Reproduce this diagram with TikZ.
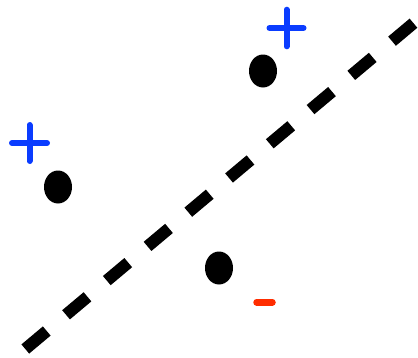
\documentclass[tikz,border=0pt]{standalone}
\usetikzlibrary{shapes.geometric}
\definecolor{plusblue}{RGB}{10,60,255}
\definecolor{minusred}{RGB}{255,45,0}
\begin{document}
\begin{tikzpicture}[x=1pt,y=-1pt,
  dot/.style={ellipse,fill=black,draw=none,inner sep=0pt,minimum width=28pt,minimum height=33pt},
  plussign/.style={draw=plusblue,line width=6pt,line cap=round},
  minussign/.style={draw=minusred,line width=6.5pt,line cap=round},
  sepline/.style={draw=black,line width=12pt,dash pattern=on 28pt off 25.2pt}]
\useasboundingbox (0,0) rectangle (418,357);
% separating line
\coordinate (la) at (25.3,349);
\coordinate (lb) at (413.7,23);
\path[sepline] (la) -- (lb);
% points
\node[dot] (d1) at (263,71) {};
\node[dot] (d2) at (58,187) {};
\node[dot] (d3) at (219,268) {};
% plus signs
\coordinate (p1) at (286.5,28);
\path[plussign] ([xshift=-17pt]p1) -- ([xshift=17pt]p1)
                ([yshift=-18.3pt]p1) -- ([yshift=18.3pt]p1);
\coordinate (p2) at (29.5,143);
\path[plussign] ([xshift=-17.5pt]p2) -- ([xshift=17.5pt]p2)
                ([yshift=-18pt]p2) -- ([yshift=18pt]p2);
% minus sign
\coordinate (m1) at (264.5,302.3);
\path[minussign] ([xshift=-8pt]m1) -- ([xshift=8pt]m1);
\end{tikzpicture}
\end{document}
